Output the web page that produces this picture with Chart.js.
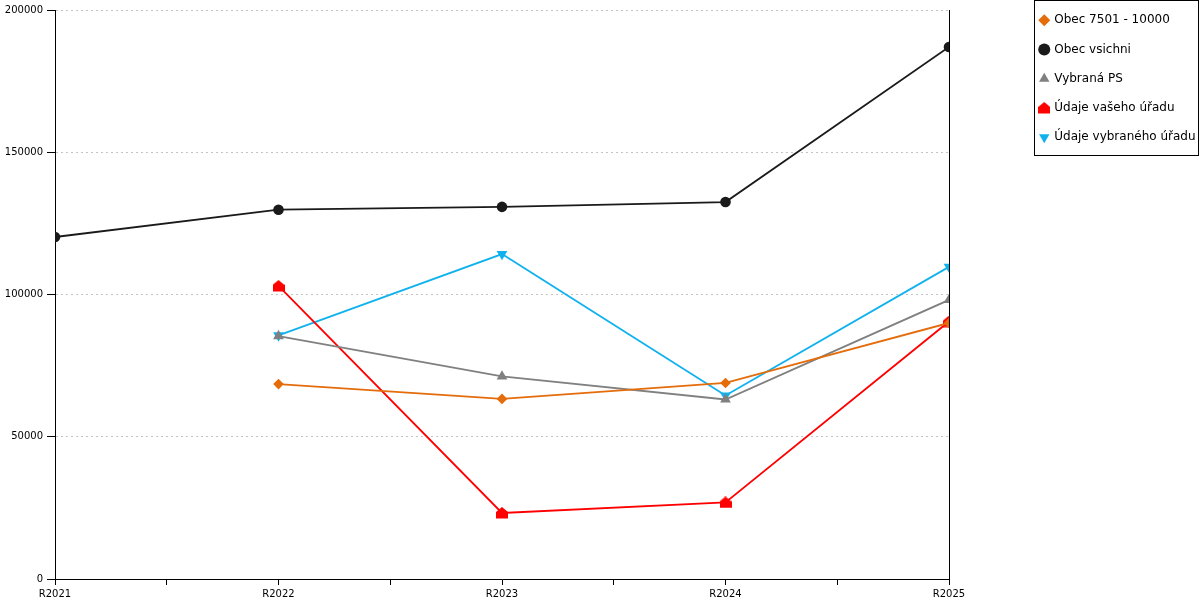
<!DOCTYPE html>
<html><head><meta charset="utf-8">
<script src="https://cdn.jsdelivr.net/npm/chart.js@4"></script>
<style>html,body{margin:0;padding:0;background:#fff}#wrap{width:1200px;height:600px;position:relative}</style>
</head><body><div id="wrap"><canvas id="c"></canvas></div>
<script>
const categories = ['R2021', 'R2022', 'R2023', 'R2024', 'R2025'];
const yTicks = [0, 50000, 100000, 150000, 200000];
const seriesNames = ['Obec 7501 - 10000', 'Obec vsichni', 'Vybraná PS', 'Údaje vašeho úřadu', 'Údaje vybraného úřadu'];
const obec7501 = [null, 68500, 63300, 68900, 90000];
const obecVsichni = [120200, 129800, 130800, 132500, 187000];
const vybranaPS = [null, 85400, 71200, 63100, 98100];
const udajeVaseho = [null, 103000, 23200, 26900, 90500];
const udajeVybraneho = [null, 85600, 114200, 64500, 109700];

function house(color) {
  const c = document.createElement('canvas');
  c.width = 12; c.height = 12;
  const g = c.getContext('2d');
  g.fillStyle = color;
  g.beginPath();
  g.moveTo(6, 0); g.lineTo(12, 5); g.lineTo(12, 11.5); g.lineTo(0, 11.5); g.lineTo(0, 5);
  g.closePath(); g.fill();
  return c;
}
const toXY = arr => arr.map((v, i) => ({x: i, y: v}));

const FONT = 'DejaVu Sans';
const ds = (label, data, color, style, radius, extra) => Object.assign({
  label, data: toXY(data), borderColor: color, backgroundColor: color,
  pointBackgroundColor: color, pointBorderColor: color, pointBorderWidth: 0,
  pointStyle: style, pointRadius: radius, pointHoverRadius: radius,
  borderWidth: 1.8, tension: 0, spanGaps: false, fill: false
}, extra || {});

const layoutPlugin = {
  id: 'legendPlace',
  beforeLayout(chart) {
    const lg = chart.legend;
    if (lg && !lg._patched) {
      const orig = lg.fit;
      lg.fit = function () { orig.call(this); this.width = 251; };
      lg._patched = true;
    }
  },
  afterLayout(chart) {
    const lg = chart.legend;
    if (lg) { lg.left = 1023; lg.right = 1200; lg.top = -3; }
  },
  afterDraw(chart) {
    const ctx = chart.ctx;
    ctx.save();
    ctx.strokeStyle = '#000';
    ctx.lineWidth = 1;
    ctx.strokeRect(1034.5, 0.5, 164, 155);
    ctx.restore();
  }
};

new Chart(document.getElementById('c'), {
  type: 'line',
  data: {
    datasets: [
      ds(seriesNames[0], obec7501, '#E46C0A', 'rectRot', 5.3),
      ds(seriesNames[1], obecVsichni, '#1a1a1a', 'circle', 5.3),
      ds(seriesNames[2], vybranaPS, '#808080', 'triangle', 6.2),
      ds(seriesNames[3], udajeVaseho, '#FF0000', house('#FF0000'), 6),
      ds(seriesNames[4], udajeVybraneho, '#10B2EE', 'triangle', 6.2, {pointRotation: 180})
    ]
  },
  options: {
    responsive: true,
    maintainAspectRatio: false,
    animation: false,
    devicePixelRatio: 1,
    layout: {padding: {top: 4, right: 0, bottom: 0, left: 0}},
    plugins: {
      legend: {
        position: 'right',
        align: 'start',
        labels: {
          usePointStyle: true, boxWidth: 8, boxHeight: 8.5, padding: 17.25,
          color: '#000', font: {family: FONT, size: 12}
        }
      },
      tooltip: {enabled: false}
    },
    scales: {
      x: {
        type: 'linear', min: 0, max: categories.length - 1,
        afterFit: s => { s.height = 21; },
        ticks: {
          stepSize: 0.5, autoSkip: false, maxRotation: 0, padding: 3,
          color: '#000', font: {family: FONT, size: 10},
          callback: v => Number.isInteger(v) ? categories[v] : ''
        },
        grid: {drawOnChartArea: false, tickLength: 6, tickColor: '#000', color: '#000'},
        border: {color: '#000', width: 1}
      },
      y: {
        min: yTicks[0], max: yTicks[yTicks.length - 1],
        afterFit: s => { s.width = 55; },
        afterBuildTicks: s => { s.ticks = yTicks.map(v => ({value: v})); },
        ticks: {color: '#000', padding: 4, font: {family: FONT, size: 10}, callback: v => String(v)},
        grid: {color: '#c4c4c4', tickColor: '#000', tickLength: 8},
        border: {color: '#000', width: 1, dash: [2, 3]}
      },
      yRight: {
        position: 'right', min: yTicks[0], max: yTicks[yTicks.length - 1],
        ticks: {display: false},
        grid: {display: false, drawTicks: false},
        border: {display: true, color: '#000', width: 1}
      }
    }
  },
  plugins: [layoutPlugin]
});
</script></body></html>
